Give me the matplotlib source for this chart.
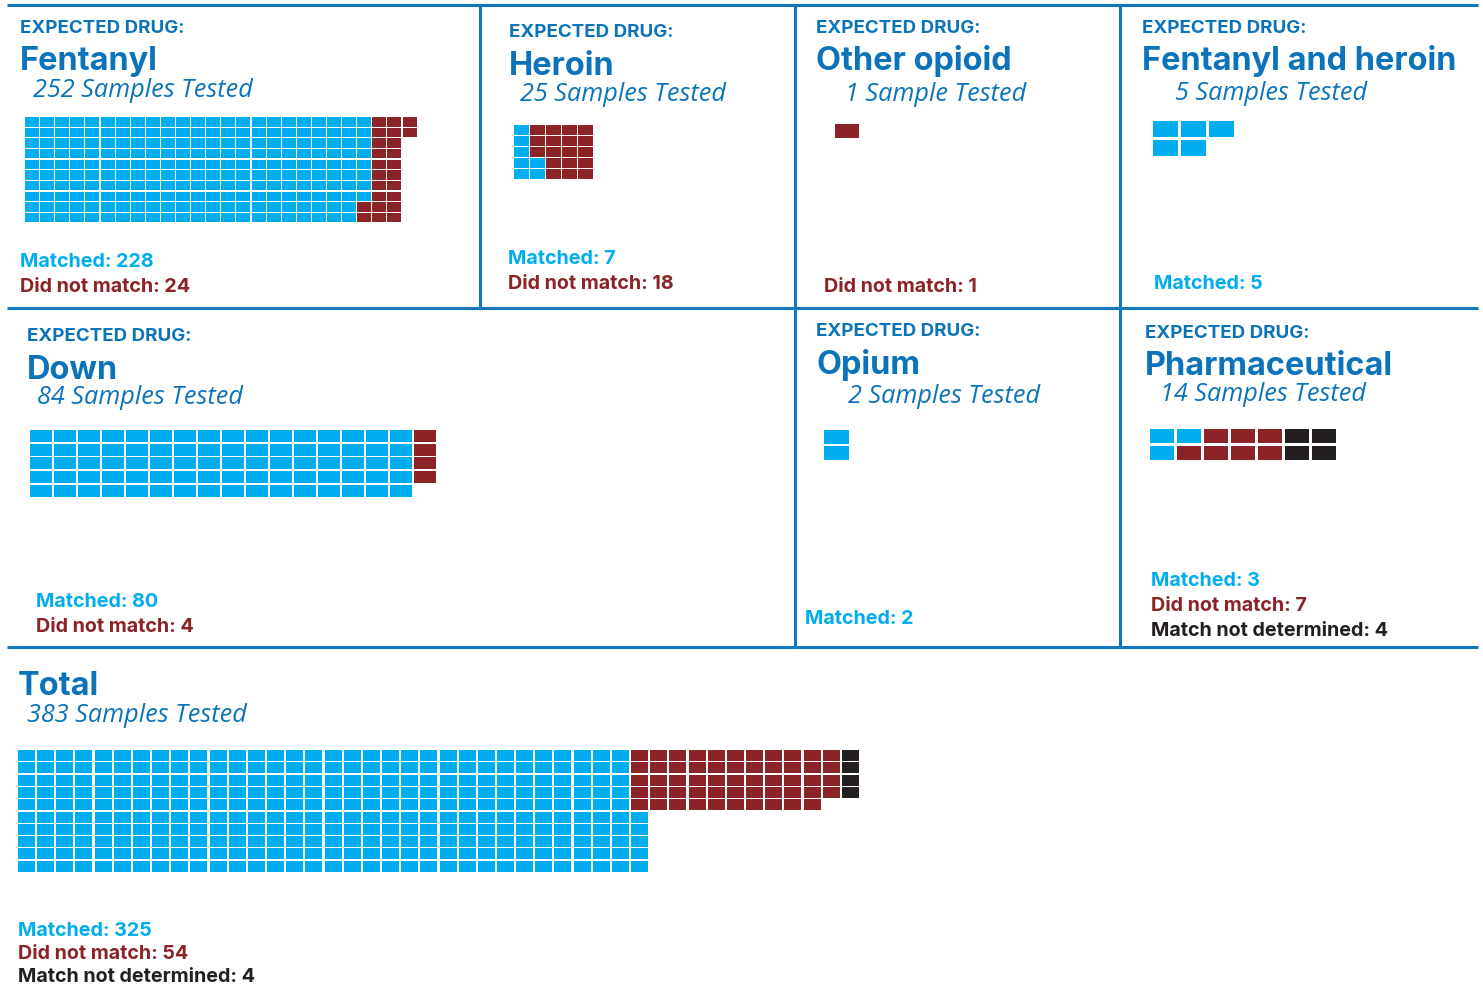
import matplotlib
matplotlib.use('Agg')
import matplotlib.pyplot as plt
from matplotlib.patches import Rectangle

plt.rcParams['font.family'] = ['Inter', 'DejaVu Sans']

# colours
BLUE_TITLE = '#0b73b9'
CYAN = '#00aeef'
RED = '#8b2327'
BLACK = '#231f20'

# data
panel_names = ['Fentanyl', 'Heroin', 'Other opioid', 'Fentanyl and heroin',
               'Down', 'Opium', 'Pharmaceutical', 'Total']
matched = [228, 7, 0, 5, 80, 2, 3, 325]
not_matched = [24, 18, 1, 0, 4, 0, 7, 54]
not_determined = [0, 0, 0, 0, 0, 0, 4, 4]

# layout per panel: text anchors, waffle origin, pitch, cell size, rows, direction
layout = {
    'Fentanyl':            dict(hx=20, hy=33, ty=70, sx=33, sy=97, lx=20, ly=267,
                                x0=25, y0=117, dx=15.1, dy=10.65, w=14, h=9.5, rows=10, up=False),
    'Heroin':              dict(hx=509, hy=37, ty=75, sx=520, sy=101, lx=508, ly=264,
                                x0=514, y0=125, dx=16.1, dy=11.1, w=15, h=10, rows=5, up=True),
    'Other opioid':        dict(hx=816, hy=33, ty=70, sx=845, sy=101, lx=824, ly=292,
                                x0=835, y0=124, dx=27, dy=16, w=24, h=14, rows=2, up=False),
    'Fentanyl and heroin': dict(hx=1142, hy=33, ty=70, sx=1175, sy=100, lx=1154, ly=289,
                                x0=1153, y0=121, dx=28, dy=19, w=25, h=16, rows=2, up=False),
    'Down':                dict(hx=27, hy=341, ty=379, sx=37, sy=404, lx=36, ly=607,
                                x0=30, y0=430, dx=24, dy=13.7, w=22, h=12, rows=5, up=False),
    'Opium':               dict(hx=816, hy=336, ty=374, sx=848, sy=403, lx=805, ly=624,
                                x0=824, y0=430, dx=27, dy=16, w=25, h=14, rows=2, up=False),
    'Pharmaceutical':      dict(hx=1145, hy=338, ty=375, sx=1160, sy=401, lx=1151, ly=586,
                                x0=1150, y0=429, dx=27, dy=17, w=24, h=14, rows=2, up=False),
    'Total':               dict(hx=18, hy=None, ty=695, sx=27, sy=722, lx=18, ly=936,
                                x0=18, y0=750, dx=19.16, dy=12.3, w=17, h=11, rows=10, up=True),
}
label_step = {'Total': 23}
# total uses separate bands for the red and black groups: (start column, rows)
total_bands = [(32, 5), (43, 5)]


def fill(count, rows, up, start=0):
    out = []
    for k in range(start, start + count):
        col = k // rows
        row = k % rows
        if up:
            row = rows - 1 - row
        out.append((col, row))
    return out


fig = plt.figure(figsize=(14.83, 9.94), dpi=100)
ax = fig.add_axes([0, 0, 1, 1])
ax.set_xlim(0, 1483)
ax.set_ylim(994, 0)
ax.axis('off')

# panel borders
lc = '#1476bd'
for y in [5, 307.5, 647]:
    ax.plot([7, 1478], [y, y], color=lc, lw=2.2, solid_capstyle='butt')
ax.plot([480, 480], [5, 307.5], color=lc, lw=2.2)
ax.plot([794.5, 794.5], [5, 647], color=lc, lw=2.2)
ax.plot([1119.5, 1119.5], [5, 647], color=lc, lw=2.2)

for i, name in enumerate(panel_names):
    L = layout[name]
    counts = [matched[i], not_matched[i], not_determined[i]]
    colors = [CYAN, RED, BLACK]
    total = sum(counts)

    if L['hy'] is not None:
        ax.text(L['hx'], L['hy'], 'EXPECTED DRUG:', color=BLUE_TITLE, fontsize=13.5,
                fontweight='bold', va='baseline', ha='left')
    ax.text(L['hx'], L['ty'], name, color=BLUE_TITLE, fontsize=23.4,
            fontweight='bold', va='baseline', ha='left')
    word = 'Sample' if total == 1 else 'Samples'
    ax.text(L['sx'], L['sy'], f'{total} {word} Tested', color=BLUE_TITLE, fontsize=18.2,
            style='italic', family=['Open Sans', 'DejaVu Sans'], va='baseline', ha='left')

    # waffle cells
    if name == 'Total':
        groups = [fill(counts[0], L['rows'], True)]
        for (c0, r), n in zip(total_bands, counts[1:]):
            groups.append([(c0 + c, rr) for c, rr in fill(n, r, False)])
    else:
        groups = []
        start = 0
        for n in counts:
            groups.append(fill(n, L['rows'], L['up'], start))
            start += n
    for cells, col in zip(groups, colors):
        for c, r in cells:
            ax.add_patch(Rectangle((L['x0'] + c * L['dx'], L['y0'] + r * L['dy']),
                                   L['w'], L['h'], facecolor=col, edgecolor='none'))

    # count labels
    lines = []
    if counts[0]:
        lines.append((f'Matched: {counts[0]}', CYAN))
    if counts[1]:
        lines.append((f'Did not match: {counts[1]}', RED))
    if counts[2]:
        lines.append((f'Match not determined: {counts[2]}', BLACK))
    step = label_step.get(name, 25)
    y = L['ly']
    for txt, col in lines:
        ax.text(L['lx'], y, txt, color=col, fontsize=14.2, fontweight='bold',
                va='baseline', ha='left')
        y += step

fig.savefig('out.png', dpi=100)
